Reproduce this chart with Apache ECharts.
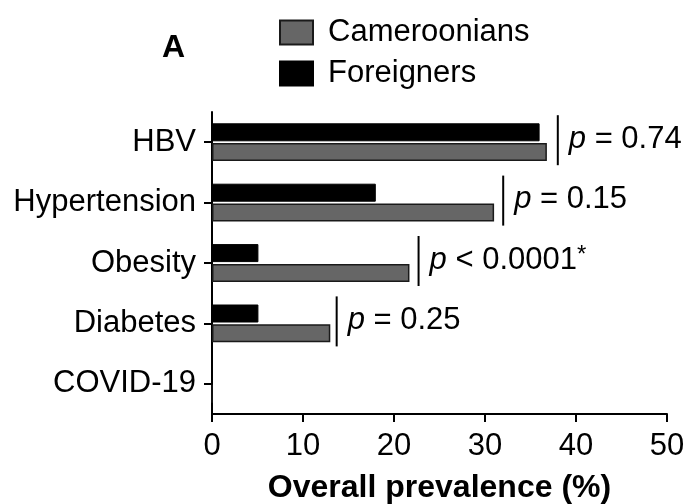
<!DOCTYPE html>
<html><head><meta charset="utf-8">
<script src="https://cdn.jsdelivr.net/npm/echarts@6/dist/echarts.min.js"></script>
<style>html,body{margin:0;padding:0;background:#fff}#c{width:688px;height:504px}</style>
</head><body><div id="c"></div>
<script>
var categories = ['HBV', 'Hypertension', 'Obesity', 'Diabetes', 'COVID-19'];
var cameroonians = [36.8, 31.0, 21.7, 13.0, 0];
var foreigners = [36.0, 18.0, 5.1, 5.1, 0];
var pLineX = [38.0, 32.0, 22.7, 13.7];
var pCats = ['HBV', 'Hypertension', 'Obesity', 'Diabetes'];
var pTexts = ['= 0.74', '= 0.15', '< 0.0001', '= 0.25'];
var pStar = ['', '', '*', ''];
var xTicks = [0, 10, 20, 30, 40, 50];

var FONT = '"Liberation Sans", Arial, sans-serif';
var FS = 31;
var chart = echarts.init(document.getElementById('c'));
var pData = pLineX.map(function (v, i) { return [v, pCats[i], i]; });

chart.setOption({
  animation: false,
  textStyle: { fontFamily: FONT, color: '#000' },
  title: { text: 'A', left: 162, top: 32, padding: 0, textStyle: { fontFamily: FONT, fontWeight: 'bold', fontSize: 32, color: '#000' } },
  legend: {
    orient: 'vertical', left: 279, top: 17, padding: 0, itemWidth: 33, itemHeight: 24, itemGap: 10,
    icon: 'rect',
    data: ['Cameroonians', 'Foreigners'],
    textStyle: { fontFamily: FONT, fontSize: FS, color: '#000', padding: [0, 0, 0, 10] }
  },
  grid: { left: 212, right: 21, top: 112, bottom: 90, containLabel: false, outerBoundsMode: 'none' },
  xAxis: {
    type: 'value', min: xTicks[0], max: xTicks[xTicks.length - 1], interval: 10,
    splitLine: { show: false },
    axisLine: { show: true, lineStyle: { color: '#000', width: 2 } },
    axisTick: { show: true, length: 8, lineStyle: { color: '#000', width: 2 } },
    axisLabel: { fontFamily: FONT, fontSize: FS, color: '#000', margin: 17 },
    name: 'Overall prevalence (%)', nameLocation: 'middle', nameGap: 58,
    nameTextStyle: { fontFamily: FONT, fontSize: 32, fontWeight: 'bold', color: '#000' }
  },
  yAxis: {
    type: 'category', data: categories, inverse: true,
    axisLine: { show: true, lineStyle: { color: '#000', width: 2 } },
    axisTick: { show: true, alignWithLabel: true, length: 8, lineStyle: { color: '#000', width: 2 } },
    axisLabel: { fontFamily: FONT, fontSize: FS, color: '#000', margin: 16 }
  },
  series: [
    { name: 'Foreigners', type: 'bar', data: foreigners, barWidth: 18, barGap: '10%',
      itemStyle: { color: '#000', borderColor: '#000', borderWidth: 1 } },
    { name: 'Cameroonians', type: 'bar', data: cameroonians, barWidth: 18, barGap: '10%',
      itemStyle: { color: '#666666', borderColor: '#1a1a1a', borderWidth: 1.5 } },
    { type: 'custom', data: pData, silent: true, z: 5,
      encode: { x: 0, y: 1 },
      renderItem: function (params, api) {
        var i = api.value(2);
        var p = api.coord([api.value(0), api.value(1)]);
        return { type: 'group', children: [
          { type: 'line', shape: { x1: p[0], y1: p[1] - 27, x2: p[0], y2: p[1] + 23 },
            style: { stroke: '#000', lineWidth: 2 } },
          { type: 'text', x: p[0] + 11, y: p[1] - 3,
            style: { text: '{it|p} ' + pTexts[i] + '{sup|' + pStar[i] + '}', verticalAlign: 'middle', align: 'left',
              fill: '#000', fontFamily: FONT, fontSize: FS,
              rich: { it: { fontStyle: 'italic', fontFamily: FONT, fontSize: FS },
                      sup: { fontFamily: FONT, fontSize: 24, verticalAlign: 'top', padding: [0, 0, 10, 0] } } } }
        ] };
      } }
  ]
});
</script></body></html>
